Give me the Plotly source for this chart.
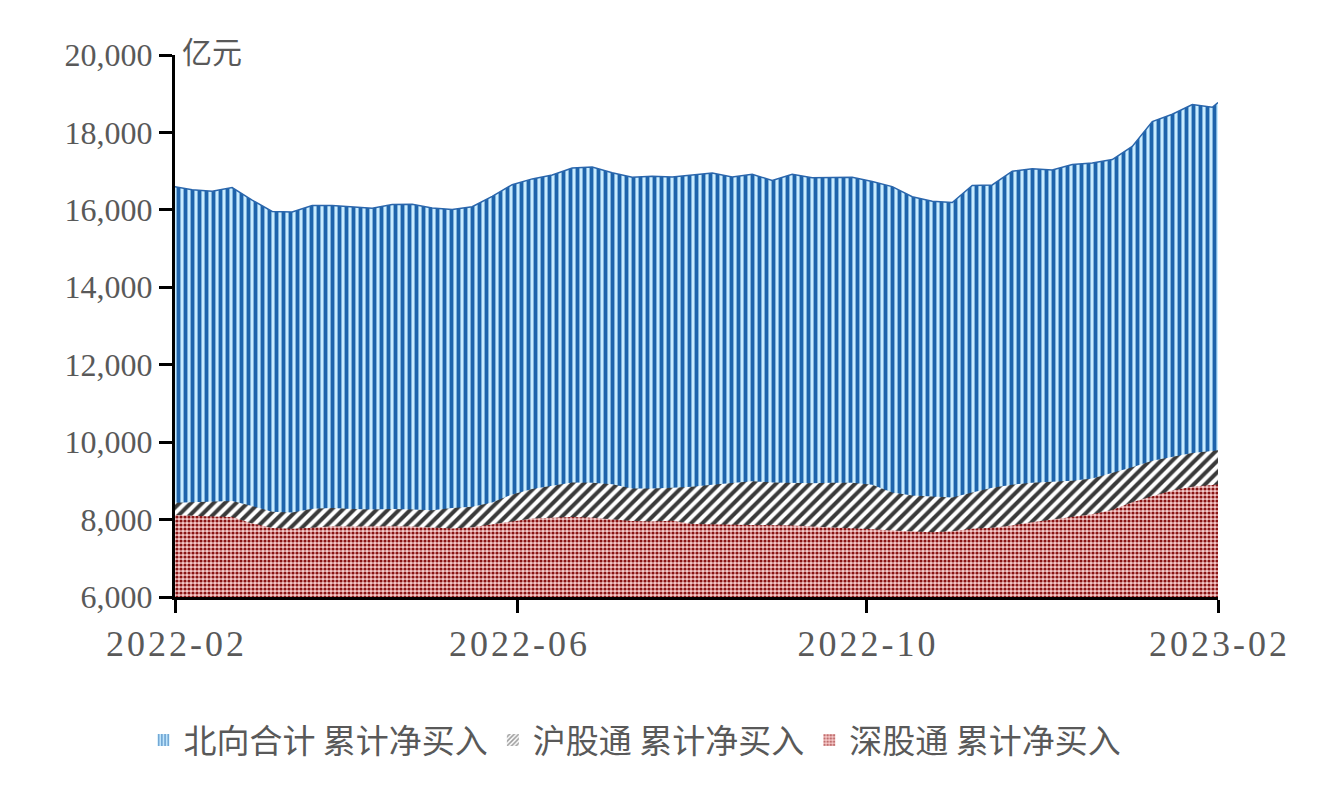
import plotly.graph_objects as go
import pandas as pd

dates = list(pd.date_range("2022-01-31", periods=53, freq="7D").strftime("%Y-%m-%d")) + ["2023-02-01"]

north_total = [16610, 16520, 16480, 16575, 16250, 15960, 15945, 16110, 16110, 16080,
               16040, 16140, 16146, 16050, 16010, 16080, 16350, 16650, 16800, 16900,
               17080, 17107, 16960, 16840, 16870, 16850, 16900, 16950, 16850, 16918,
               16760, 16918, 16830, 16840, 16840, 16735, 16600, 16340, 16220, 16190,
               16630, 16645, 17000, 17060, 17030, 17170, 17210, 17300, 17640, 18280,
               18470, 18720, 18650, 18770]
sh_connect = [8430, 8450, 8470, 8480, 8350, 8200, 8180, 8280, 8300, 8270,
              8260, 8270, 8260, 8240, 8300, 8330, 8440, 8650, 8790, 8880,
              8960, 8950, 8910, 8800, 8800, 8820, 8850, 8900, 8950, 8990,
              8960, 8950, 8940, 8950, 8950, 8900, 8700, 8620, 8600, 8570,
              8700, 8820, 8900, 8950, 8980, 9000, 9060, 9200, 9350, 9520,
              9620, 9720, 9770, 9790]
sz_connect = [8118, 8090, 8080, 8066, 7900, 7780, 7760, 7790, 7830, 7820,
              7830, 7830, 7820, 7800, 7770, 7800, 7870, 7950, 8030, 8050,
              8066, 8050, 8000, 7963, 7950, 7970, 7888, 7880, 7870, 7860,
              7850, 7844, 7820, 7800, 7770, 7750, 7720, 7690, 7670, 7700,
              7760, 7790, 7850, 7932, 8000, 8080, 8140, 8250, 8450, 8600,
              8750, 8850, 8890, 8903]

names = ["北向合计 累计净买入", "沪股通 累计净买入", "深股通 累计净买入"]
x_tickvals = ["2022-02-01", "2022-06-01", "2022-10-01", "2023-02-01"]
x_ticktext = ["2022-02", "2022-06", "2022-10", "2023-02"]
y_tickvals = [6000, 8000, 10000, 12000, 14000, 16000, 18000, 20000]

spaced = ["\u200a".join(list(t)) for t in x_ticktext]

patterns = [
    dict(shape="|", fgcolor="#1E64AC", bgcolor="#C8ECFF", size=7, solidity=0.55),
    dict(shape="/", fgcolor="#3A3A3A", bgcolor="#FFFFFF", size=8, solidity=0.5),
    dict(shape=".", fgcolor="#8A1414", bgcolor="#F6CACA", size=4, solidity=0.5),
]
values = [north_total, sh_connect, sz_connect]
lines = [dict(color="#2A66AC", width=1.5), dict(width=0), dict(width=0)]

fig = go.Figure()
for name, vals, pat, ln in zip(names, values, patterns, lines):
    fig.add_trace(go.Scatter(
        x=dates, y=vals, name=name, mode="lines", fill="tozeroy",
        fillcolor=pat["bgcolor"], line=ln, fillpattern=dict(pat, fgopacity=1),
        showlegend=False,
    ))
# legend entries (square swatches)
for name, pat in zip(names, patterns):
    fig.add_trace(go.Bar(
        x=[None], y=[None], name=name,
        marker=dict(color=pat["bgcolor"], line=dict(width=0),
                    pattern=dict(shape=pat["shape"], fgcolor=pat["fgcolor"],
                                 bgcolor=pat["bgcolor"], size=4, solidity=pat["solidity"])),
    ))

fig.update_layout(
    width=1328, height=786,
    margin=dict(l=175, r=110, t=55, b=189),
    plot_bgcolor="white", paper_bgcolor="white",
    font=dict(family="Liberation Serif, Noto Sans CJK SC", color="#595959"),
    showlegend=True,
    legend=dict(orientation="h", x=0.441, xanchor="center", y=-0.264, yanchor="middle",
                font=dict(size=33, family="Noto Sans CJK SC", color="#595959"),
                itemwidth=30, traceorder="normal", tracegroupgap=0),
    xaxis=dict(type="date", range=["2022-02-01", "2023-02-01"], tickvals=x_tickvals,
               ticktext=spaced, showgrid=False, zeroline=False,
               showline=True, linecolor="black", linewidth=3,
               ticks="outside", ticklen=13, tickwidth=3, tickcolor="black",
               tickfont=dict(size=36, family="Liberation Serif", color="#595959")),
    yaxis=dict(range=[6000, 20000], tickvals=y_tickvals, tickformat=",d",
               showgrid=False, zeroline=False,
               showline=True, linecolor="black", linewidth=3,
               ticks="outside", ticklen=13, tickwidth=3, tickcolor="black",
               tickfont=dict(size=32, family="Liberation Serif", color="#595959")),
    annotations=[dict(text="亿元", xref="paper", yref="paper", x=0.005, y=1.009,
                      xanchor="left", yanchor="middle", showarrow=False,
                      font=dict(size=30, family="Noto Sans CJK SC", color="#595959"))],
)

fig.write_html("out.html")
